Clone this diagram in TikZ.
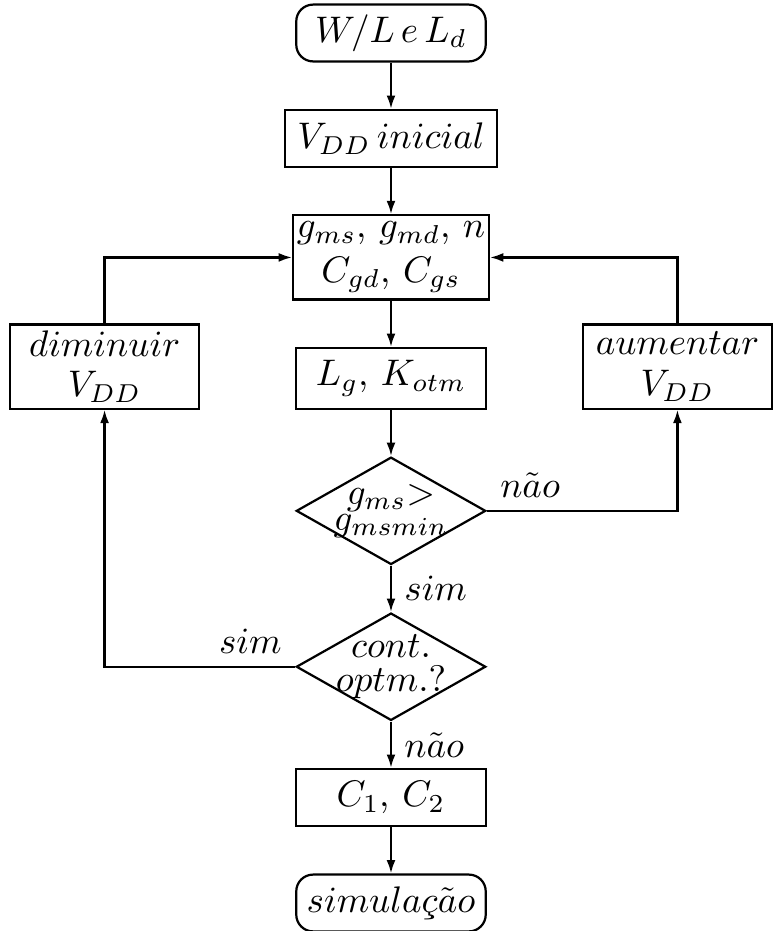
\documentclass[tikz,border=0pt]{standalone}
\usepackage{tikz}
\usetikzlibrary{arrows.meta,positioning,shapes.geometric}

\begin{document}
\begin{tikzpicture}[node distance=0.44cm, semithick,
    term/.style={draw, rounded corners=1.6mm, inner sep=2pt, minimum width=1.8cm, minimum height=0.54cm},
    proc/.style={draw, minimum width=1.8cm, minimum height=0.54cm},
    proctwo/.style={draw, align=center, minimum width=1.8cm, minimum height=0.8cm, inner sep=1pt},
    decis/.style={draw, diamond, align=center, aspect=1.76, inner sep=-3pt, minimum width=1.8cm, minimum height=1.02cm},
    flow/.style={-{Latex[length=3.6pt,width=2.4pt]}}]
    \useasboundingbox (-3.7145,0.3135) rectangle (3.6385,-8.531);
    \node[term] (start) at (0,0) {$W/L\,e\,L_d$};
    \node[proc, below=of start] (vinit) {$V_{DD}\,inicial$};
    \node[proctwo, below=of vinit] (gm) {$g_{ms}$, $g_{md}$, $n$\\$C_{gd}$, $C_{gs}$};
    \node[proc, below=of gm] (lk) {$L_g$, $K_{otm}$};
    \node[decis, below=of lk] (test) {$g_{ms}{>}$\\[-5pt]$g_{msmin}$};
    \node[decis, below=of test] (cont) {$cont.$\\[-3pt]$optm.?$};
    \node[proc, below=of cont] (cc) {$C_1$, $C_2$};
    \node[term, below=of cc] (fim) {$simula\mbox{\ooalign{$c$\cr\hidewidth\char"B8\hidewidth\cr}}\tilde{a}o$};
    \node[proctwo, above left=0pt and 0.9cm of lk.south west] (dim) {$diminuir$\\[-1pt]$V_{DD}$};
    \node[proctwo, above right=0pt and 0.9cm of lk.south east] (aum) {$aumentar$\\[-1pt]$V_{DD}$};

    \draw[flow] (start) -- (vinit);
    \draw[flow] (vinit) -- (gm);
    \draw[flow] (gm) -- (lk);
    \draw[flow] (lk) -- (test);
    \draw[flow] (test) -- node[right] {$sim$} (cont);
    \draw[flow] (cont) -- node[right] {$n\tilde{a}o$} (cc);
    \draw[flow] (cc) -- (fim);
    \draw[flow] (test.east) -- node[above right, pos=0] {$n\tilde{a}o$} (test.east -| aum) -- (aum);
    \draw[flow] (cont.west) -- node[above left, pos=0] {$sim$} (cont.west -| dim) -- (dim);
    \draw[flow] (dim) |- (gm);
    \draw[flow] (aum) |- (gm);
\end{tikzpicture}
\end{document}
